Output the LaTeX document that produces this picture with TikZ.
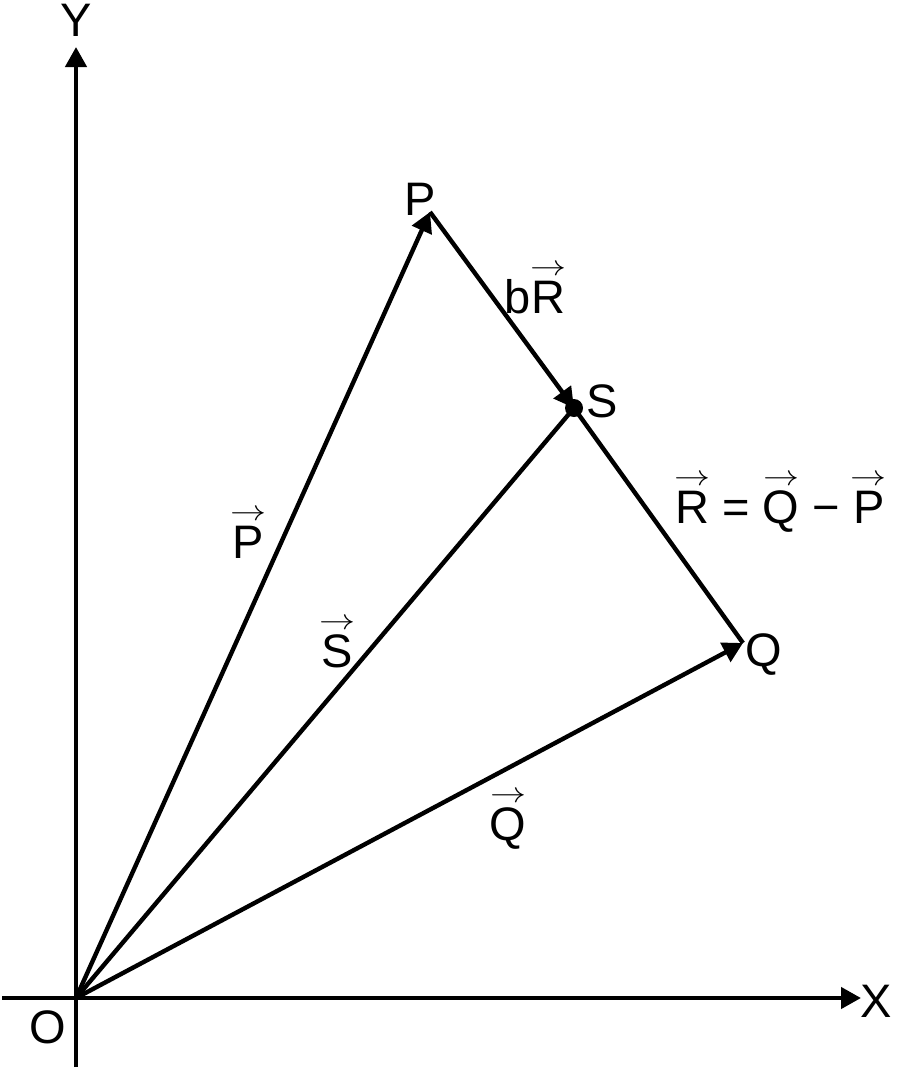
\documentclass[tikz,border=0pt]{standalone}
\usepackage{fontspec}
\setmainfont{Liberation Sans}
\usetikzlibrary{arrows.meta}
\newcommand\vt[1]{\ooalign{#1\cr\hidewidth\raisebox{19pt}{\scalebox{1.25}[1]{\fontsize{15}{15}\selectfont$\rightarrow$}}\hidewidth\cr}}
\begin{document}
\begin{tikzpicture}[x=0.5pt,y=-0.5pt,
  line width=2.2pt,
  vecline/.style={-{Triangle[length=10pt,width=10.5pt]}},
  plain/.style={},
  lbl/.style={anchor=base,inner sep=0pt,font=\fontsize{23.5}{28}\selectfont}]
\useasboundingbox (0,0) rectangle (904,1088);
% points
\coordinate (O) at (76,998);
\coordinate (P) at (430,212);
\coordinate (S) at (574,408);
\coordinate (Q) at (743,643);
\coordinate (xl) at (2,998);
\coordinate (xr) at (861,998);
\coordinate (yb) at (76,1067);
\coordinate (yt) at (76,47);
% axes
\draw[vecline] (xl) -- (xr);
\draw[vecline] (yb) -- (yt);
% vectors
\draw[vecline] (O) -- (P);
\draw[vecline] (O) -- (Q);
\draw[plain] (O) -- (S);
\draw[vecline] (P) -- (S);
\draw[plain] (S) -- (Q);
\fill (S) circle (4.5pt);
% labels
\node[lbl] (ly) at (76,36) {Y};
\node[lbl] (lx) at (876,1017) {X};
\node[lbl] (lo) at (48,1043) {O};
\node[lbl] (lp) at (420,215) {P};
\node[lbl] (lbr) at (535,313) {b\vt{R}};
\node[lbl] (ls) at (602,417) {S};
\node[lbl] (lq) at (764,666) {Q};
\node[lbl] (lr) at (780,523) {\vt{R} = \vt{Q} − \vt{P}};
\node[lbl] (lpv) at (248,558) {\vt{P}};
\node[lbl] (lsv) at (337,667) {\vt{S}};
\node[lbl] (lqv) at (508,840) {\vt{Q}};
\end{tikzpicture}
\end{document}
